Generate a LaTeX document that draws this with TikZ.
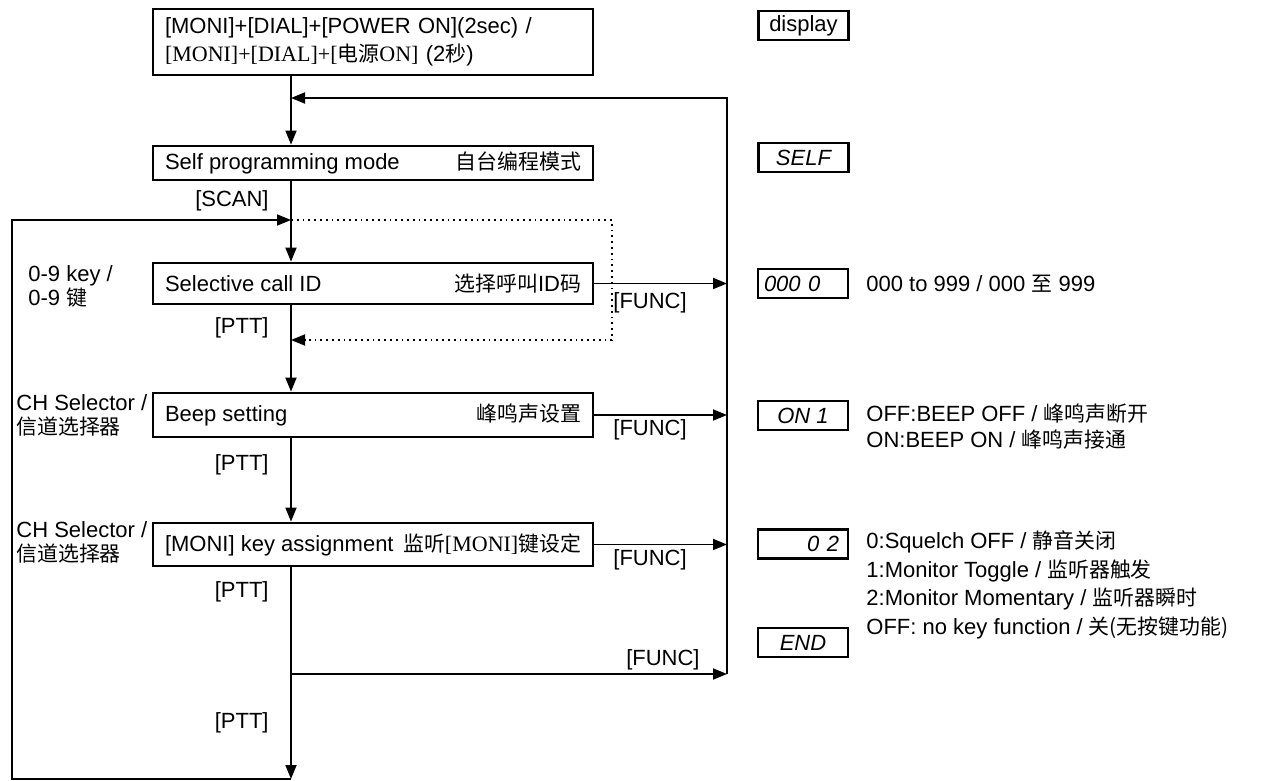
\documentclass[tikz,border=0pt]{standalone}
\usepackage{fontspec}
\setmainfont{Liberation Sans}
\newfontfamily\cjk[Scale=0.95]{Noto Sans CJK SC}
\newfontfamily\serifrm{Liberation Serif}
\usetikzlibrary{arrows.meta}
\newcommand{\boxrow}[2]{\makebox[208pt]{#1\hfill #2}}

\begin{document}
\begin{tikzpicture}[x=0.5pt, y=-0.5pt, font=\fontsize{11}{14}\selectfont,
  stepbox/.style={draw, line width=1.4pt, minimum width=220pt, inner xsep=6pt, inner ysep=2pt},
  dispbox/.style={draw, line width=1.2pt, minimum width=45pt, minimum height=14.5pt, inner sep=0pt, font=\fontsize{11}{14}\selectfont\itshape},
  flow/.style={line width=0.9pt, -{Triangle[length=7pt,width=5.5pt]}},
  lab/.style={inner sep=0pt}]
  \useasboundingbox (0,0) rectangle (1265,781);
  \coordinate (spine) at (291,0);

  % steps
  \node[stepbox, minimum height=33pt, text width=208pt, align=left] (start) at (373,42)
    {[MONI]+[DIAL]+[POWER ON](2sec) /\\{\serifrm [MONI]+[DIAL]+[}{\cjk 电源}{\serifrm ON]} (2{\cjk 秒})};
  \node[stepbox, minimum height=17pt] (self) at (373,163) {\boxrow{Self programming mode}{{\cjk 自台编程模式}}};
  \node[stepbox, minimum height=20.5pt] (sel) at (373,283.5) {\boxrow{Selective call ID}{{\cjk 选择呼叫}ID{\cjk 码}}};
  \node[stepbox, minimum height=22pt] (beep) at (373,415) {\boxrow{Beep setting}{{\cjk 峰鸣声设置}}};
  \node[stepbox, minimum height=21.5pt] (moni) at (373,544.5) {\boxrow{[MONI] key assignment}{{\cjk 监听}{\serifrm [MONI]}{\cjk 键设定}}};

  % display column
  \node[dispbox, font=\fontsize{11}{14}\selectfont] (dsp) at (803.5,25.5) {display};
  \node[dispbox] (dself) at (803.5,157.5) {SELF};
  \node[dispbox, text width=39pt, align=left] (did) at (803,283.5) {000 0};
  \node[dispbox] (dbeep) at (803,415.5) {ON 1};
  \node[dispbox, text width=36pt, align=right] (dmoni) at (803,544) {0 2};
  \node[dispbox] (dend) at (803,642.5) {END};

  \node[lab, anchor=west] (tid) at (866,284) {000 to 999 / 000 {\cjk 至} 999};
  \node[lab, anchor=west, align=left, font=\fontsize{11}{13}\selectfont] (tbeep) at (866,427)
    {OFF:BEEP OFF / {\cjk 峰鸣声断开}\\ON:BEEP ON / {\cjk 峰鸣声接通}};
  \node[lab, anchor=west, align=left, font=\fontsize{11}{14.3}\selectfont] (tmoni) at (866,585)
    {0:Squelch OFF / {\cjk 静音关闭}\\1:Monitor Toggle / {\cjk 监听器触发}\\2:Monitor Momentary / {\cjk 监听器瞬时}\\OFF: no key function / {\cjk 关(无按键功能)}};

  % key labels
  \node[lab, anchor=west, align=left, font=\fontsize{11}{12}\selectfont] (keys) at (28,286) {0-9 key /\\0-9 {\cjk 键}};
  \node[lab, anchor=west, align=left, font=\fontsize{11}{12}\selectfont] (chbeep) at (16,415) {CH Selector /\\{\cjk 信道选择器}};
  \node[lab, anchor=west, align=left, font=\fontsize{11}{12}\selectfont] (chmoni) at (16,542) {CH Selector /\\{\cjk 信道选择器}};
  \node[lab, anchor=east] (scan) at (269,201) {[SCAN]};
  \foreach \y [count=\i] in {328,465,592,723}
    \node[lab, anchor=east] (ptt\i) at (269,\y) {[PTT]};
  \foreach \y [count=\i] in {303,430,560}
    \node[lab, anchor=west] (func\i) at (613,\y) {[FUNC]};
  \node[lab, anchor=east] (func4) at (700,660) {[FUNC]};

  % connectors
  \coordinate (jtop) at (291,98);
  \coordinate (rtop) at (727,98);
  \coordinate (rbot) at (727,674);
  \coordinate (jfunc) at (291,674);
  \coordinate (bot) at (291,779);
  \coordinate (lbot) at (12,779);
  \coordinate (ltop) at (12,220);
  \coordinate (jscan) at (291,220);
  \coordinate (dtop) at (612,220);
  \coordinate (dbot) at (612,340);
  \coordinate (jptt) at (291,340);

  \draw[flow] (start.south -| spine) -- (self.north -| spine);
  \draw[flow] (self.south -| spine) -- (sel.north -| spine);
  \draw[flow] (sel.south -| spine) -- (beep.north -| spine);
  \draw[flow] (beep.south -| spine) -- (moni.north -| spine);
  \draw[flow] (moni.south -| spine) -- (bot);
  \draw[flow] (bot) -- (lbot) -- (ltop) -- (jscan);
  \draw[flow, dotted] (jscan) -- (dtop) -- (dbot) -- (jptt);
  \draw[flow] (sel.east) -- (sel.east -| rtop);
  \draw[flow] (beep.east) -- (beep.east -| rtop);
  \draw[flow] (moni.east) -- (moni.east -| rtop);
  \draw[flow] (jfunc) -- (rbot);
  \draw[flow] (rbot) -- (rtop) -- (jtop);
\end{tikzpicture}
\end{document}
